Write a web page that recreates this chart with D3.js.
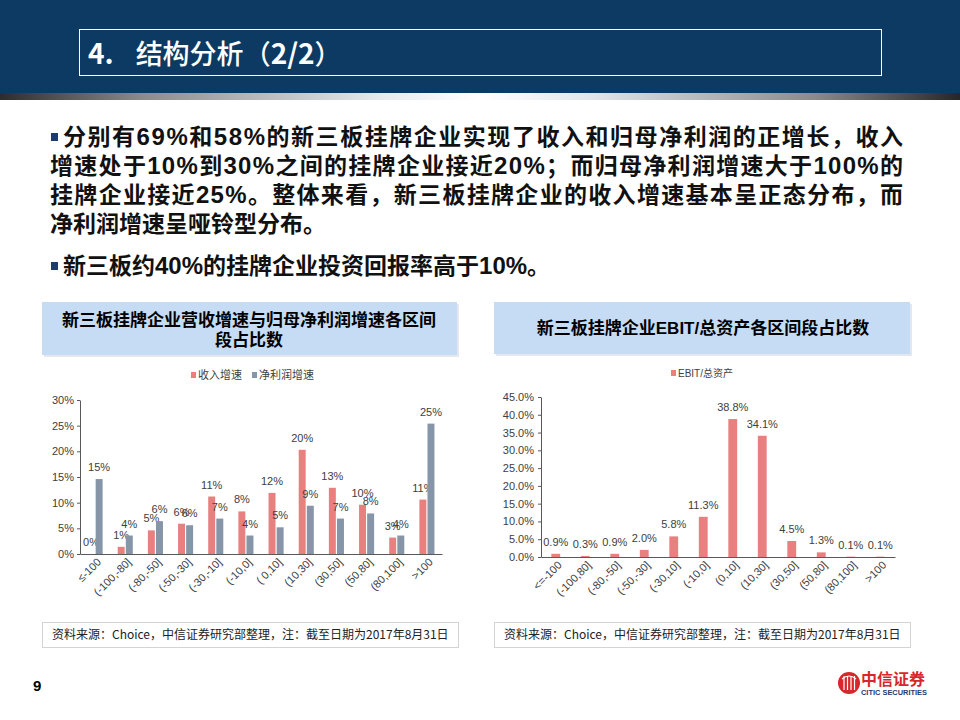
<!DOCTYPE html>
<html><head><meta charset="utf-8">
<script src="https://cdn.jsdelivr.net/npm/d3@7/dist/d3.min.js"></script>
<style>body{margin:0;background:#fff}svg{display:block}</style>
</head><body>
<svg id="c" width="960" height="720"></svg>
<script>
// ---------- data ----------
const categoriesL = ["≤-100","(-100,-80]","(-80,-50]","(-50,-30]","(-30,-10]","(-10,0]","( 0,10]","(10,30]","(30,50]","(50,80]","(80,100]",">100"];
const revenueGrowth = [0, 1.4, 4.6, 5.9, 11.2, 8.3, 11.9, 20.3, 12.9, 9.6, 3.2, 10.6];
const profitGrowth  = [14.6, 3.6, 6.4, 5.6, 6.9, 3.6, 5.2, 9.4, 6.9, 7.9, 3.6, 25.4];
const seriesL = ["收入增速","净利润增速"];
const ticksL = [0,5,10,15,20,25,30];

const categoriesR = ["<=-100","(-100,80]","(-80,-50]","(-50,-30]","(-30,10]","(-10,0]","(0,10]","(10,30]","(30,50]","(50,80]","(80,100]",">100"];
const ebitRatio = [0.9, 0.3, 0.9, 2.0, 5.8, 11.3, 38.8, 34.1, 4.5, 1.3, 0.1, 0.1];
const seriesR = ["EBIT/总资产"];
const ticksR = [0,5,10,15,20,25,30,35,40,45];

const bodyLines = [
  "分别有69%和58%的新三板挂牌企业实现了收入和归母净利润的正增长，收入",
  "增速处于10%到30%之间的挂牌企业接近20%；而归母净利润增速大于100%的",
  "挂牌企业接近25%。整体来看，新三板挂牌企业的收入增速基本呈正态分布，而",
  "净利润增速呈哑铃型分布。",
  "新三板约40%的挂牌企业投资回报率高于10%。"
];
const chartTitleL = ["新三板挂牌企业营收增速与归母净利润增速各区间","段占比数"];
const chartTitleR = "新三板挂牌企业EBIT/总资产各区间段占比数";
const sourceText = "资料来源：Choice，中信证券研究部整理，注：截至日期为2017年8月31日";

// ---------- styles ----------
const RED = "#e98080", GRAY = "#8695a7", TXT = "#404040";
const CJK = "'Noto Sans CJK SC', 'Noto Sans', sans-serif";
const LAT = "'Liberation Sans', Arial, 'Noto Sans CJK SC', sans-serif";

const svg = d3.select("#c");
const defs = svg.append("defs");
const g1 = defs.append("linearGradient").attr("id","strip").attr("x1","0").attr("x2","1");
[[0,"#2c2c2c"],[0.15,"#8c8c8c"],[0.4,"#e6ebee"],[0.5,"#ffffff"],[0.62,"#dfe5ea"],[0.85,"#8a8a8a"],[1,"#262626"]]
  .forEach(([o,c])=>g1.append("stop").attr("offset",o).attr("stop-color",c));

// header
svg.append("rect").attr("x",0).attr("y",0).attr("width",960).attr("height",93).attr("fill","#0c3a63");
svg.append("rect").attr("x",0).attr("y",93).attr("width",960).attr("height",7).attr("fill","url(#strip)");
svg.append("rect").attr("x",79.5).attr("y",29.5).attr("width",802).attr("height",46)
  .attr("fill","none").attr("stroke","#ffffff").attr("stroke-width",1);
const tt = svg.append("text").attr("x",88).attr("y",64).attr("fill","#fff")
  .attr("font-size",28).attr("font-family","'Liberation Sans Narrow', " + CJK).attr("font-weight","bold");
tt.append("tspan").text("4.");
tt.append("tspan").attr("dx",22).attr("font-family",CJK).attr("font-weight",500).attr("font-size",27).text("结构分析");
tt.append("tspan").attr("font-family",CJK).attr("font-weight",500).attr("font-size",27).text("（");
tt.append("tspan").text("2/2");
tt.append("tspan").attr("font-family",CJK).attr("font-weight",500).attr("font-size",27).text("）");

// body text
const lineY = [145, 174, 203, 232, 274];
const lineX = [63, 50, 50, 50, 63];
const justified = [true, true, true, false, false];
const bullets = [0, 4];
bodyLines.forEach((s,i)=>{
  const t = svg.append("text").attr("x",lineX[i]).attr("y",lineY[i]).attr("font-size",23)
    .attr("font-family",CJK).attr("font-weight","bold").attr("fill","#111");
  if (justified[i]) t.attr("textLength",903-lineX[i]).attr("lengthAdjust","spacing");
  s.split(/(\d+%)/).filter(p=>p.length).forEach(p=>{
    const ts = t.append("tspan").text(p);
    if (/^\d+%$/.test(p)) ts.attr("font-family",LAT).attr("font-weight","bold").attr("font-size",24);
  });
  if (bullets.includes(i)) svg.append("rect").attr("x",51).attr("y",lineY[i]-12).attr("width",7).attr("height",8).attr("fill","#1f3a6e");
});

// chart title boxes
function titleBox(x,y,w,h){
  svg.append("rect").attr("x",x+2).attr("y",y+2).attr("width",w).attr("height",h).attr("fill","#e4e8ee");
  svg.append("rect").attr("x",x).attr("y",y).attr("width",w).attr("height",h).attr("fill","#c6dbf4");
}
titleBox(42,302,415,53);
titleBox(494,302,416,52);
chartTitleL.forEach((s,i)=>svg.append("text").attr("x",249).attr("y",326+i*20).attr("text-anchor","middle")
  .attr("font-size",17).attr("font-weight","bold").attr("font-family",CJK).attr("fill","#000").text(s));
{
  const t = svg.append("text").attr("x",703).attr("y",334).attr("text-anchor","middle")
    .attr("font-size",17).attr("font-weight","bold").attr("font-family",CJK).attr("fill","#000");
  chartTitleR.split(/(EBIT\/)/).filter(p=>p).forEach(p=>{
    const ts=t.append("tspan").text(p); if(p==="EBIT/") ts.attr("font-family",LAT);
  });
}

// ---------- left chart ----------
{
  const x0 = d3.scaleBand().domain(categoriesL).range([80,442]).paddingInner(0.5).paddingOuter(0.25);
  const x1 = d3.scaleBand().domain(seriesL).range([0,x0.bandwidth()]).paddingInner(0.14);
  const y = d3.scaleLinear().domain([0,30]).range([554,400]);
  const g = svg.append("g").attr("font-family",LAT);
  const yAx = g.append("g").attr("transform","translate(80,0)")
    .call(d3.axisLeft(y).tickValues(ticksL).tickFormat(d=>d+"%").tickSizeInner(3).tickSizeOuter(0));
  yAx.selectAll("text").attr("font-size",11).attr("fill",TXT).attr("x",-6);
  yAx.selectAll("line,path").attr("stroke","#595959");
  const xAx = g.append("g").attr("transform","translate(0,554)")
    .call(d3.axisBottom(x0).tickSize(0));
  xAx.select("path").attr("stroke","#595959");
  xAx.selectAll("text").attr("font-size",11).attr("fill",TXT)
    .attr("text-anchor","end").attr("transform","translate(4,6) rotate(-45)").attr("dy","0.35em").attr("y",0).attr("x",0);
  const data = [revenueGrowth, profitGrowth];
  const colors = [RED, GRAY];
  data.forEach((arr,si)=>{
    const gg = g.append("g");
    gg.selectAll("rect").data(arr).join("rect")
      .attr("x",(d,i)=>x0(categoriesL[i])+x1(seriesL[si]))
      .attr("width",x1.bandwidth())
      .attr("y",d=>y(d)).attr("height",d=>y(0)-y(d)).attr("fill",colors[si]);
    gg.selectAll("text").data(arr).join("text")
      .attr("x",(d,i)=>x0(categoriesL[i])+x1(seriesL[si])+x1.bandwidth()/2)
      .attr("y",d=>y(d)-8).attr("text-anchor","middle").attr("font-size",11).attr("fill",TXT)
      .text(d=>Math.round(d)+"%");
  });
  // legend
  const lx = [191, 252];
  seriesL.forEach((s,i)=>{
    g.append("rect").attr("x",lx[i]).attr("y",372).attr("width",5).attr("height",6).attr("fill",colors[i]);
    g.append("text").attr("x",lx[i]+7).attr("y",379).attr("font-size",11).attr("fill",TXT)
      .attr("font-family",CJK).text(s);
  });
}

// ---------- right chart ----------
{
  const x = d3.scaleBand().domain(categoriesR).range([541,895]).paddingInner(0.7).paddingOuter(0.35);
  const y = d3.scaleLinear().domain([0,45]).range([557,397]);
  const g = svg.append("g").attr("font-family",LAT);
  const yAx = g.append("g").attr("transform","translate(541,0)")
    .call(d3.axisLeft(y).tickValues(ticksR).tickFormat(d=>d.toFixed(1)+"%").tickSizeInner(3).tickSizeOuter(0));
  yAx.selectAll("text").attr("font-size",11).attr("fill",TXT).attr("x",-7);
  yAx.selectAll("line,path").attr("stroke","#595959");
  const xAx = g.append("g").attr("transform","translate(0,557)").call(d3.axisBottom(x).tickSize(0));
  xAx.select("path").attr("stroke","#595959");
  xAx.selectAll("text").attr("font-size",11).attr("fill",TXT)
    .attr("text-anchor","end").attr("transform","translate(4,6) rotate(-45)").attr("dy","0.35em").attr("y",0).attr("x",0);
  g.selectAll("rect.bar").data(ebitRatio).join("rect").attr("class","bar")
    .attr("x",(d,i)=>x(categoriesR[i])).attr("width",x.bandwidth())
    .attr("y",d=>y(d)).attr("height",d=>y(0)-y(d)).attr("fill",RED);
  g.selectAll("text.lbl").data(ebitRatio).join("text").attr("class","lbl")
    .attr("x",(d,i)=>x(categoriesR[i])+x.bandwidth()/2).attr("y",d=>y(d)-8)
    .attr("text-anchor","middle").attr("font-size",11).attr("fill",TXT).text(d=>d.toFixed(1)+"%");
  g.append("rect").attr("x",671).attr("y",370).attr("width",5).attr("height",6).attr("fill",RED);
  const lt = g.append("text").attr("x",678).attr("y",377).attr("font-size",10).attr("fill",TXT);
  lt.append("tspan").text("EBIT/");
  lt.append("tspan").attr("font-family",CJK).text("总资产");
}

// source boxes
[[42,416],[494,416]].forEach(([x,w])=>{
  svg.append("rect").attr("x",x+0.5).attr("y",622.5).attr("width",w).attr("height",25)
    .attr("fill","#fff").attr("stroke","#d4d4d4");
  svg.append("text").attr("x",x+10).attr("y",639).attr("font-size",12).attr("font-family",CJK)
    .attr("fill","#222").text(sourceText);
});

// page number
svg.append("text").attr("x",33).attr("y",691).attr("font-size",15).attr("font-weight","bold")
  .attr("font-family",LAT).attr("fill","#000").text("9");

// logo
{
  const lg = svg.append("g");
  lg.append("circle").attr("cx",849).attr("cy",683).attr("r",11).attr("fill","#d7262c");
  [-5,-1.5,2,5.5].forEach(dx=>lg.append("line").attr("x1",849+dx).attr("x2",849+dx)
    .attr("y1",676).attr("y2",690).attr("stroke","#fff").attr("stroke-width",1.2));
  lg.append("path").attr("d","M842,679 Q849,673 856,679").attr("fill","none").attr("stroke","#fff").attr("stroke-width",1.2);
  lg.append("text").attr("x",861).attr("y",685).attr("font-size",16).attr("font-weight","bold")
    .attr("font-family",CJK).attr("fill","#d7262c").text("中信证券");
  lg.append("text").attr("x",861).attr("y",695).attr("font-size",7).attr("font-weight","bold")
    .attr("font-family",LAT).attr("fill","#1f3a6e").attr("textLength",66).attr("lengthAdjust","spacingAndGlyphs").text("CITIC SECURITIES");
}
</script>
</body></html>
